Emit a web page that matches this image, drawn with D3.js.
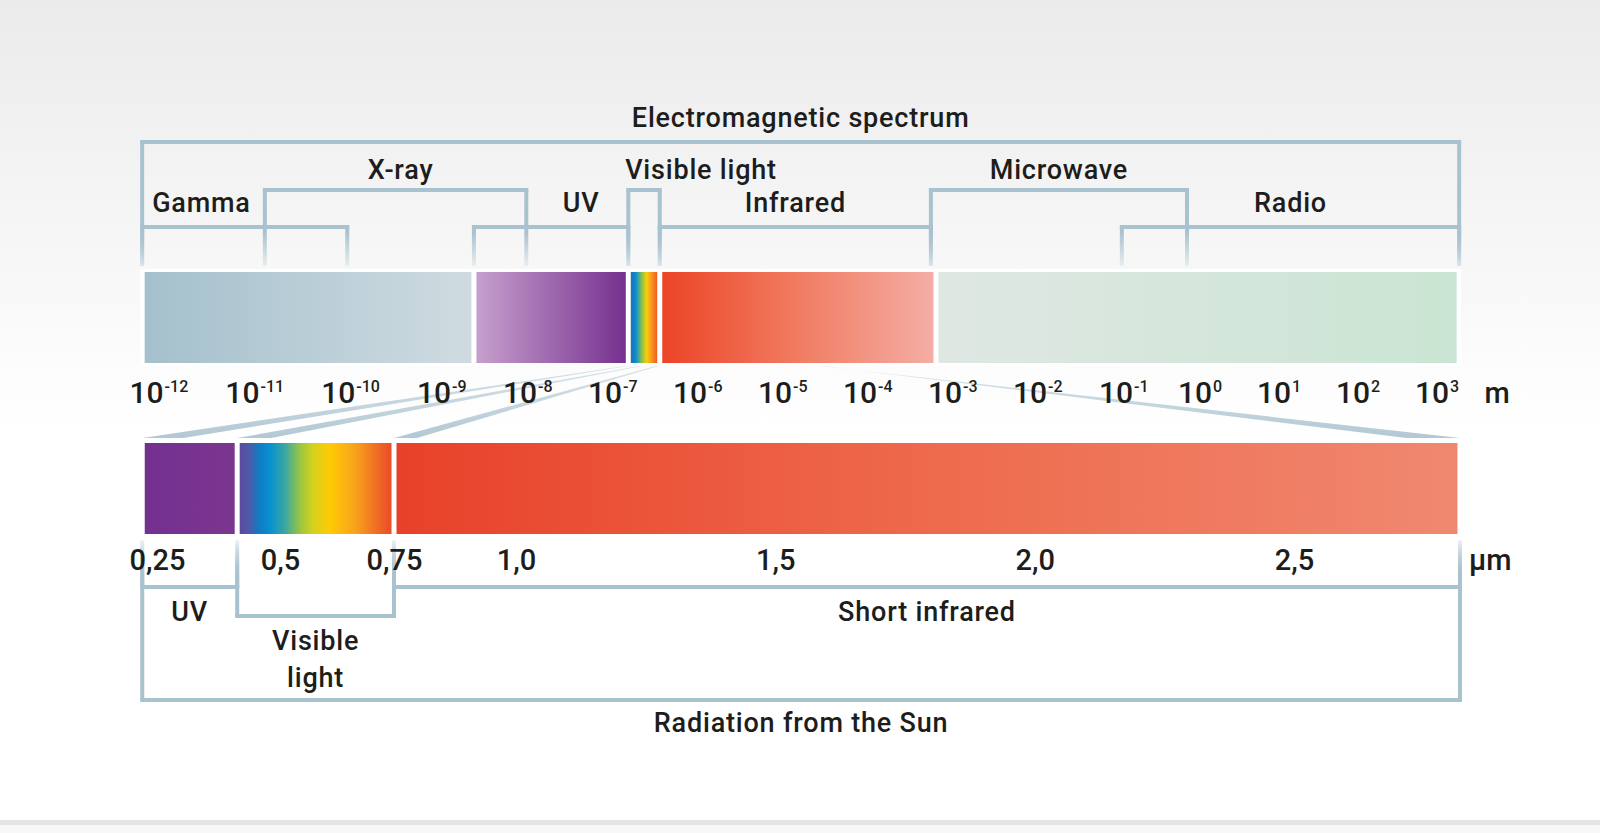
<!DOCTYPE html>
<html>
<head>
<meta charset="utf-8">
<script src="https://cdn.jsdelivr.net/npm/d3@7"></script>
<style>
  body { margin: 0; background: #fff; }
  svg { display: block; }
</style>
</head>
<body>
<svg id="chart" width="1600" height="833"></svg>
<script>
// upper scale: wavelength as power of ten, in metres
const mTicks = [-12, -11, -10, -9, -8, -7, -6, -5, -4, -3, -2, -1, 0, 1, 2, 3];
const bandNames = ['gammaX', 'uv', 'visible', 'infrared', 'radio'];
const bandEdges = [-12.04, -8.53, -6.72, -6.35, -3.1, 3.35];

// [label, from, to, tier]
const topBrackets = [
  ['Electromagnetic spectrum', -12.04, 3.35, 0],
  ['X-ray', -10.76, -7.92, 1],
  ['Visible light', -6.72, -6.35, 1],
  ['Microwave', -3.16, -0.095, 1],
  ['Gamma', -12.04, -9.9, 2],
  ['UV', -8.53, -6.72, 2],
  ['Infrared', -6.35, -3.16, 2],
  ['Radio', -0.92, 3.35, 2]
];

// lower scale: solar radiation, in micrometres
const umTicks = [0.25, 0.5, 0.75, 1.0, 1.5, 2.0, 2.5];
const sunBandNames = ['uvSun', 'visibleSun', 'swir'];
const sunEdges = [0.22, 0.413, 0.75, 2.82];

const bottomBrackets = [
  ['UV', 0.22, 0.413, 1],
  ['Visible light', 0.413, 0.75, 2],
  ['Short infrared', 0.75, 2.82, 1],
  ['Radiation from the Sun', 0.22, 2.82, 3]
];

// beams joining the two scales: [micrometres, power of ten]
const beams = [[0.22, -6.74], [0.413, -6.58], [0.75, -6.38], [2.82, -4.45]];


const bandColors = {
  gammaX: ['#a4c0cc', '#cfdbe1'],
  uv: ['#c6a0cd', '#76318f'],
  visible: [[0, '#1a70b8'], [0.2, '#0f8fd0'], [0.42, '#8cc445'], [0.6, '#fbcc0e'], [0.8, '#f6931f'], [1, '#ef5a28']],
  infrared: [[0, '#ec4426'], [0.5, '#f17c62'], [1, '#f4ada4']],
  radio: ['#dfe7e3', '#cae5d3'],
  uvSun: ['#73308f', '#7b3690'],
  visibleSun: [[0, '#5d4a9e'], [0.06, '#4f5aa8'], [0.13, '#0f7cc3'], [0.2, '#0890d0'], [0.3, '#3aa8a0'], [0.4, '#9cc63f'], [0.48, '#d2d120'], [0.59, '#ffcb05'], [0.76, '#f8a31b'], [0.91, '#f06a25'], [1, '#ea4b27']],
  swir: [[0, '#e8412a'], [0.5, '#ee6a4c'], [1, '#f08870']]
};
const bracketColor = '#a9c2cf';
const textColor = '#1d1d1b';
const font = 'Roboto, "Open Sans", sans-serif';

const svg = d3.select('#chart');
const defs = svg.append('defs');

const xTop = d3.scaleLinear()
  .domain([-12, -9, -8, -2, -1, 3])
  .range([146, 433.5, 519.5, 1029.5, 1115.5, 1431.5]);

const xSun = d3.scaleLinear()
  .domain([0.25, 0.5, 0.75, 1, 2.5])
  .range([157, 280, 394, 516, 1294]);

const topBar = {y: 272, h: 91};
const sunBar = {y: 443, h: 91};
const topTierY = [142, 190, 227];
const topLabelY = [127, 179, 212];
const sunTierY = {1: 587, 2: 616, 3: 700};
const sw = 4;
const gap = 2.5;

const topLabelLayout = {
  'X-ray': {dx: 5},
  'Visible light': {dx: 57},
  'Gamma': {anchor: 'start', dx: 10},
  'UV': {dx: 30}
};


// gradients
function hGrad(id, stops){
  let g = defs.append('linearGradient').attr('id', id)
    .attr('x1', 0).attr('x2', 1).attr('y1', 0).attr('y2', 0);
  stops.forEach((s, i) => {
    let off = Array.isArray(s) ? s[0] : i / (stops.length - 1);
    let col = Array.isArray(s) ? s[1] : s;
    g.append('stop').attr('offset', off).attr('stop-color', col);
  });
}
Object.keys(bandColors).forEach(k => hGrad('g-' + k, bandColors[k]));

function vGrad(id, y1, y2, stops){
  let g = defs.append('linearGradient').attr('id', id)
    .attr('gradientUnits', 'userSpaceOnUse')
    .attr('x1', 0).attr('x2', 0).attr('y1', y1).attr('y2', y2);
  stops.forEach(s => g.append('stop').attr('offset', s[0]).attr('stop-color', s[1]).attr('stop-opacity', s[2]));
}
vGrad('bg', 0, 430, [[0, '#ebebeb', 1], [1, '#ffffff', 1]]);
vGrad('legTop', 232, 268, [[0, bracketColor, 1], [1, bracketColor, 0.15]]);
vGrad('legSun', 578, 540, [[0, bracketColor, 1], [1, bracketColor, 0.1]]);
vGrad('beam', 366, 438, [[0, '#bdd0da', 0.6], [1, '#b2c8d4', 1]]);


// background
svg.append('rect').attr('width', 1600).attr('height', 833).attr('fill', 'url(#bg)');
svg.append('rect').attr('y', 820).attr('width', 1600).attr('height', 5).attr('fill', '#e4e4e4');
svg.append('rect').attr('y', 825).attr('width', 1600).attr('height', 8).attr('fill', '#f8f8f8');
svg.append('rect')
  .attr('x', xTop(bandEdges[0]) - 2).attr('y', topBar.y - 3)
  .attr('width', xTop(bandEdges[bandEdges.length - 1]) - xTop(bandEdges[0]) + 4)
  .attr('height', topBar.h + 6)
  .attr('fill', '#fff');


// beams from the upper bar down to the solar bar
let beamG = svg.append('g');
beams.forEach(([um, ex]) => {
  let xt = xTop(ex), yt = topBar.y + topBar.h + 3;
  let xb = xSun(um), yb = sunBar.y - 5;
  let dx = xb - xt, dy = yb - yt;
  let L = 6 * Math.hypot(dx, dy) / dy;
  let dir = dx < 0 ? 1 : -1;
  let pts = [[xt - 1.5, yt], [xt + 1.5, yt], [xb + dir * L, yb], [xb, yb]];
  beamG.append('polygon')
    .attr('points', pts.map(p => p.join(',')).join(' '))
    .attr('fill', 'url(#beam)');
});


// bars
const topBands = bandNames.map((name, i) => ({name, from: bandEdges[i], to: bandEdges[i + 1]}));
svg.append('g').selectAll('rect')
  .data(topBands)
  .join('rect')
  .attr('x', d => xTop(d.from) + gap)
  .attr('width', d => xTop(d.to) - xTop(d.from) - 2 * gap)
  .attr('y', topBar.y)
  .attr('height', topBar.h)
  .attr('fill', d => `url(#g-${d.name})`);

const sunBands = sunBandNames.map((name, i) => ({name, from: sunEdges[i], to: sunEdges[i + 1]}));
svg.append('g').selectAll('rect')
  .data(sunBands)
  .join('rect')
  .attr('x', d => xSun(d.from) + gap)
  .attr('width', d => xSun(d.to) - xSun(d.from) - 2 * gap)
  .attr('y', sunBar.y)
  .attr('height', sunBar.h)
  .attr('fill', d => `url(#g-${d.name})`);


// brackets
function drawBrackets(g, data, x, tierY, legY, legGrad){
  data.forEach(([name, a, b, tier]) => {
    let y = tierY[tier];
    let x0 = x(a), x1 = x(b);
    [x0, x1].forEach(xx => {
      g.append('rect')
        .attr('x', xx - sw / 2).attr('width', sw)
        .attr('y', Math.min(y, legY)).attr('height', Math.abs(legY - y))
        .attr('fill', `url(#${legGrad})`);
    });
    g.append('rect')
      .attr('x', x0 - sw / 2).attr('y', y - sw / 2)
      .attr('width', x1 - x0 + sw).attr('height', sw)
      .attr('fill', bracketColor);
  });
}
drawBrackets(svg.append('g'), topBrackets, xTop, topTierY, 266, 'legTop');
drawBrackets(svg.append('g'), bottomBrackets, xSun, sunTierY, 540, 'legSun');


// bracket labels
let labelG = svg.append('g')
  .attr('font-family', font)
  .attr('font-size', 27)
  .attr('font-weight', 500)
  .attr('letter-spacing', 0.8)
  .attr('fill', textColor);

topBrackets.forEach(([name, a, b, tier]) => {
  let lay = topLabelLayout[name] || {};
  let anchor = lay.anchor || 'middle';
  let x = anchor == 'start' ? xTop(a) : (xTop(a) + xTop(b)) / 2;
  labelG.append('text')
    .attr('x', x + (lay.dx || 0))
    .attr('y', topLabelY[tier])
    .attr('text-anchor', anchor)
    .text(name);
});

bottomBrackets.forEach(([name, a, b, tier]) => {
  let x = (xSun(a) + xSun(b)) / 2;
  let t = labelG.append('text')
    .attr('text-anchor', 'middle')
    .attr('y', sunTierY[tier] + 34 - (tier == 3 ? 2 : 0));
  let words = (xSun(b) - xSun(a)) < 200 && name.includes(' ') ? name.split(' ') : [name];
  words.forEach((w, i) => t.append('tspan').attr('x', x).attr('dy', i ? 37 : 0).text(w));
});


// axes
let topAxis = svg.append('g')
  .attr('transform', `translate(0, 403)`)
  .call(d3.axisBottom(xTop).tickValues(mTicks).tickSize(0).tickFormat(() => ''));
topAxis.select('.domain').remove();
topAxis.attr('font-family', font).attr('font-size', 30).attr('font-weight', 500);
topAxis.selectAll('text')
  .attr('y', 0).attr('dy', 0)
  .attr('x', -17)
  .attr('text-anchor', 'start')
  .attr('fill', textColor)
  .each(function(d){
    let t = d3.select(this);
    t.append('tspan').text('10');
    t.append('tspan').attr('dx', 1).attr('dy', -11).attr('font-size', 16).text(d);
  });

const commaFmt = d3.formatLocale({decimal: ',', thousands: '.', grouping: [3], currency: ['', '']});
let sunAxis = svg.append('g')
  .attr('transform', `translate(0, 570)`)
  .call(d3.axisBottom(xSun).tickValues(umTicks).tickSize(0)
    .tickFormat(d => commaFmt.format(Number.isInteger(Math.round(d * 100) / 10) ? '.1f' : '.2f')(d)));
sunAxis.select('.domain').remove();
sunAxis.attr('font-family', font).attr('font-size', 29).attr('font-weight', 500);
sunAxis.selectAll('text').attr('y', 0).attr('dy', 0).attr('fill', textColor);

// units
let unitG = svg.append('g')
  .attr('font-family', font)
  .attr('font-size', 29)
  .attr('font-weight', 500)
  .attr('fill', textColor);
unitG.append('text').attr('x', xTop(3) + 53).attr('y', 403).text('m');
unitG.append('text').attr('x', xSun(2.82) + 9).attr('y', 570).text('µm');
</script>
</body>
</html>
